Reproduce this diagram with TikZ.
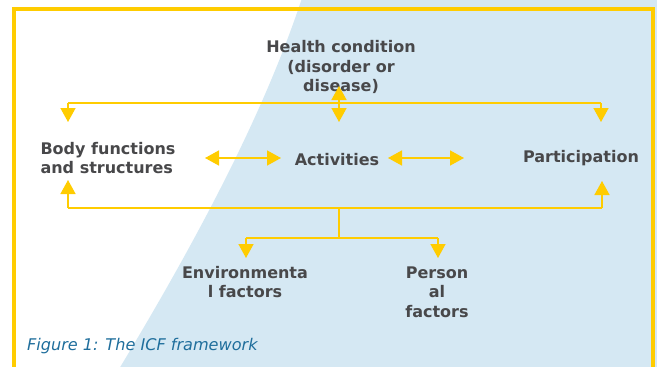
\documentclass[tikz,border=0pt]{standalone}
\usepackage{fontspec}
\setmainfont{DejaVu Sans}
\usetikzlibrary{arrows.meta}
\definecolor{icfyellow}{HTML}{FFCC00}
\definecolor{icfblue}{HTML}{D5E8F3}
\definecolor{icftext}{HTML}{48484A}
\definecolor{icfcap}{HTML}{1F6E9C}
\tikzset{
  lbl/.style={font=\bfseries\fontsize{16}{19.5}\selectfont, text=icftext, align=center, inner sep=0pt},
  conn/.style={draw=icfyellow, line width=1.5pt},
  tip/.style={-{Triangle[width=15pt,length=14pt]}},
  dtip/.style={{Triangle[width=15pt,length=14pt]}-{Triangle[width=15pt,length=14pt]}},
}
\begin{document}
\begin{tikzpicture}[x=1pt,y=-1pt]
\useasboundingbox (0,0) rectangle (657,367);
\clip (0,0) rectangle (657,367);
% background
\fill[icfblue] (302,-2) .. controls (270,95) and (215,210) .. (119,369) -- (660,369) -- (660,-2) -- cycle;
% frame
\draw[icfyellow, line width=3.5pt] (14,400) -- (14,9) -- (653,9) -- (653,400);
% nodes
\node[lbl] (hc) at (341,67) {Health condition\\(disorder or\\disease)};
\node[lbl, align=left] (body) at (108,158) {Body functions\\and structures};
\node[lbl] (act) at (337,160) {Activities};
\node[lbl] (part) at (581,158) {Participation};
\node[lbl] (env) at (245,282) {Environmenta\\l factors};
\node[lbl] (pers) at (437,292) {Person\\al\\factors};
\node[font=\itshape\fontsize{16.1}{19}\selectfont, text=icfcap, anchor=west, inner sep=0pt] (cap) at (27,346) {Figure 1: The ICF framework};
% coordinates
\coordinate (tl) at (68,103);
\coordinate (tr) at (601,103);
\coordinate (hcup) at (339,86);
\coordinate (actin) at (339,122);
\coordinate (bodyin) at (68,122);
\coordinate (partin) at (601,122);
\coordinate (bl) at (68,208);
\coordinate (br) at (602,208);
\coordinate (bm) at (339,208);
\coordinate (bodyout) at (68,180);
\coordinate (partout) at (602,181);
\coordinate (fm) at (339,238);
\coordinate (fl) at (246,238);
\coordinate (fr) at (438,238);
\coordinate (envin) at (246,258);
\coordinate (persin) at (438,258);
\coordinate (ba1) at (205,158);
\coordinate (ba2) at (281,158);
\coordinate (ap1) at (388,158);
\coordinate (ap2) at (464,158);
% connectors
\draw[conn] (tl) -- (tr);
\draw[conn, tip] (tl) -- (bodyin);
\draw[conn, tip] (tr) -- (partin);
\draw[conn, dtip] (hcup) -- (actin);
\draw[conn, dtip] (ba1) -- (ba2);
\draw[conn, dtip] (ap1) -- (ap2);
\draw[conn, tip] (bl) -- (bodyout);
\draw[conn, tip] (br) -- (partout);
\draw[conn] (bl) -- (br);
\draw[conn] (bm) -- (fm);
\draw[conn] (fl) -- (fr);
\draw[conn, tip] (fl) -- (envin);
\draw[conn, tip] (fr) -- (persin);
\end{tikzpicture}
\end{document}
